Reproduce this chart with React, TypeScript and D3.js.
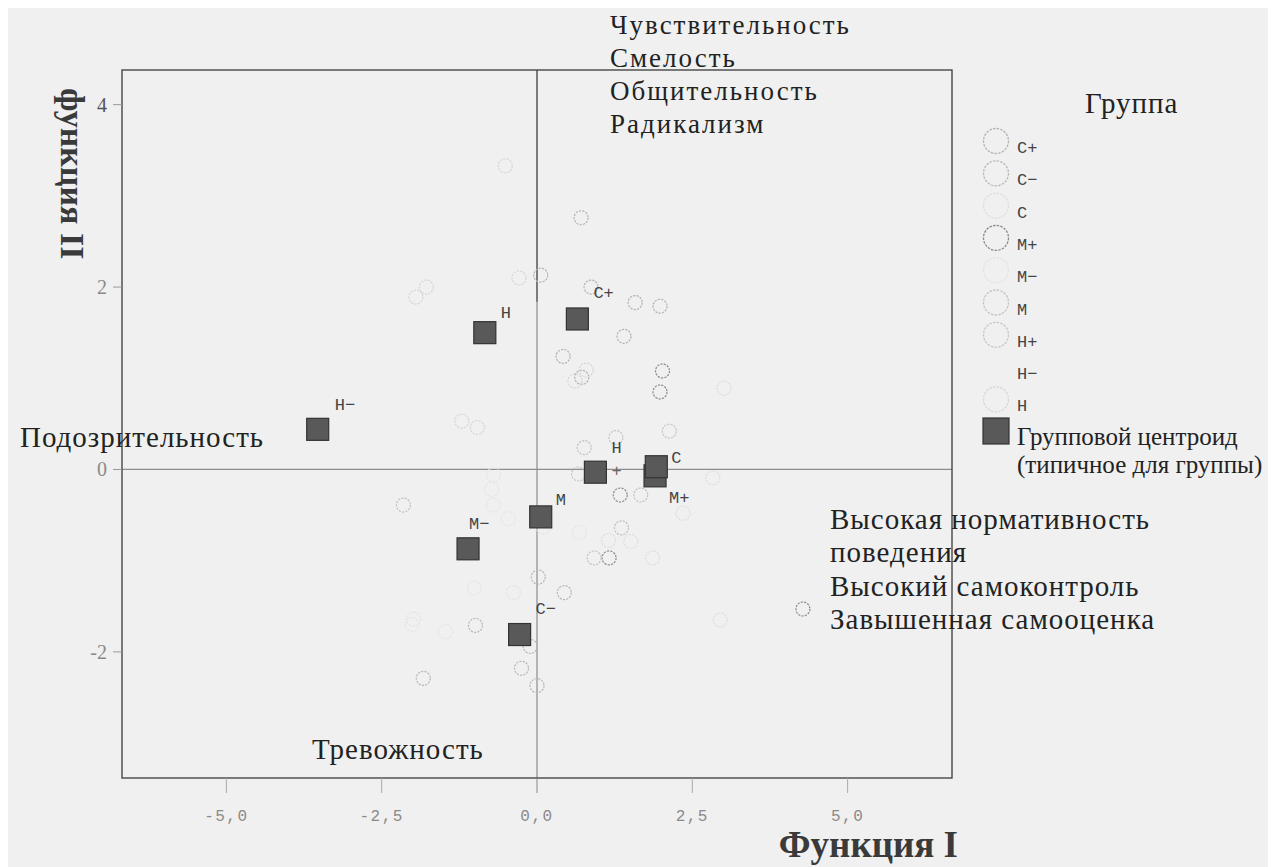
import React from "react";
import * as d3 from "d3";

// ---- data ----
const groups = ["C+", "C−", "C", "M+", "M−", "M", "H+", "H−", "H"];

const ptsCplus: [number, number][] = [
  [0.71, 2.76], [0.87, 2.0], [1.58, 1.83], [1.98, 1.79], [0.42, 1.24], [0.06, 2.13], [1.4, 1.46], [0.72, 1.01],
];
const ptsCminus: [number, number][] = [
  [0.0, -2.37], [-0.99, -1.71], [-0.11, -1.94], [-0.25, -2.18], [-1.83, -2.29], [0.02, -1.18], [0.44, -1.35],
];
const ptsC: [number, number][] = [
  [3.01, 0.89], [2.83, -0.09], [2.35, -0.48], [1.15, -0.78], [1.51, -0.79], [1.86, -0.97], [2.95, -1.65],
];
const ptsMplus: [number, number][] = [
  [2.02, 1.08], [1.98, 0.85], [1.34, -0.28], [1.16, -0.97], [4.28, -1.53],
];
const ptsMminus: [number, number][] = [
  [-0.7, -0.06], [-0.73, -0.22], [-0.7, -0.39], [-0.46, -0.54], [-1.01, -1.3], [-0.38, -1.35],
  [-1.99, -1.64], [-2.01, -1.7], [-1.47, -1.78], [0.1, -0.63], [0.68, -0.69],
];
const ptsM: [number, number][] = [
  [-2.15, -0.39], [0.92, -0.97], [1.36, -0.64], [0.76, 0.24], [1.67, -0.28],
];
const ptsHplus: [number, number][] = [
  [2.13, 0.42], [1.27, 0.35], [0.67, -0.05],
];
const ptsHminus: [number, number][] = [];
const ptsH: [number, number][] = [
  [-0.51, 3.33], [-0.29, 2.1], [-1.78, 2.0], [-1.95, 1.89], [-1.21, 0.53], [-0.96, 0.46], [0.79, 1.09], [0.61, 0.97],
];
const groupPoints = [ptsCplus, ptsCminus, ptsC, ptsMplus, ptsMminus, ptsM, ptsHplus, ptsHminus, ptsH];

// centroids (drawing order: M+ below C)
const centroidGroups = ["H−", "H", "C+", "H+", "M+", "C", "M", "M−", "C−"];
const centroidX = [-3.53, -0.84, 0.65, 0.94, 1.9, 1.92, 0.06, -1.11, -0.28];
const centroidY = [0.44, 1.5, 1.65, -0.03, -0.07, 0.03, -0.52, -0.87, -1.81];

const xTicks = [-5, -2.5, 0, 2.5, 5];
const yTicks = [-2, 0, 2, 4];

const topNotes = ["Чувствительность", "Смелость", "Общительность", "Радикализм"];
const rightNotes = ["Высокая нормативность", "поведения", "Высокий самоконтроль", "Завышенная самооценка"];
const leftNote = "Подозрительность";
const bottomNote = "Тревожность";

// ---- styles / layout ----
const groupStroke: Record<string, string> = {
  "C+": "#b2b2b2", "C−": "#b8b8b8", C: "#dedede", "M+": "#8a8a8a", "M−": "#e4e4e4",
  M: "#c2c2c2", "H+": "#c6c6c6", "H−": "#f0f0f0", H: "#d6d6d6",
};
// label offsets (px) relative to centroid centre: [dx, dy]
const labelOffsets: Record<string, [number, number]> = {
  "H−": [17, -19], H: [16, -15], "C+": [16, -21], "H+": [16, -19], C: [15, -4],
  "M+": [14, 27], M: [15, -12], "M−": [1, -20], "C−": [16, -21],
};

const BG = "#f0f0f0";
const SERIF = "'Liberation Serif', 'DejaVu Serif', serif";
const MONO = "'Liberation Mono', 'DejaVu Sans Mono', monospace";
const NOTE_SIZE = 29;
const NOTE_LS = 1;

export default function App() {
  const left = 122, right = 952, top = 70, bottom = 778;
  const x = d3.scaleLinear().domain([-6.68, 6.68]).range([left, right]);
  const y = d3.scaleLinear().domain([-3.383, 4.38]).range([bottom, top]);
  const fmtX = (v: number) => d3.format(".1f")(v).replace(".", ",").replace("−", "-");
  const sq = 22;

  return (
    <svg width={1268} height={859} style={{ display: "block" }}>
      <g transform="translate(-8,-8)">
        <rect x={8} y={8} width={1268} height={859} fill={BG} />

        {/* reference lines */}
        <line x1={left} x2={right} y1={y(0)} y2={y(0)} stroke="#8c8c8c" strokeWidth={1.2} />
        <line x1={x(0)} x2={x(0)} y1={top} y2={bottom} stroke="#8c8c8c" strokeWidth={1.2} />
        <line x1={x(0)} x2={x(0)} y1={top} y2={y(1.84)} stroke="#555" strokeWidth={1.2} />

        {/* frame */}
        <rect x={left} y={top} width={right - left} height={bottom - top} fill="none" stroke="#3a3a3a" strokeWidth={1.3} />

        {/* ticks */}
        {xTicks.map((t) => (
          <g key={"xt" + t}>
            <line x1={x(t)} x2={x(t)} y1={bottom} y2={bottom + 15} stroke={t === 0 ? "#888" : "#aaa"} />
            <text x={x(t)} y={bottom + 43} textAnchor="middle" fontFamily={MONO} fontSize={16} fill="#8a8a8a" letterSpacing={1.5}>
              {fmtX(t)}
            </text>
          </g>
        ))}
        {yTicks.map((t) => (
          <g key={"yt" + t}>
            <line x1={left - 9} x2={left} y1={y(t)} y2={y(t)} stroke="#999" />
            <text x={left - 15} y={y(t) + 7} textAnchor="end" fontFamily={SERIF} fontSize={20} fill={t === 4 ? "#555" : "#8a8a8a"}>
              {t < 0 ? "-" + Math.abs(t) : String(t)}
            </text>
          </g>
        ))}

        {/* axis titles */}
        <text x={958} y={857} textAnchor="end" fontFamily={SERIF} fontWeight="bold" fontSize={37} fill="#3a3a3a">
          Функция I
        </text>
        <text transform={`translate(61,${88}) rotate(90)`} fontFamily={SERIF} fontWeight="bold" fontSize={34} fill="#3a3a3a">
          функция II
        </text>

        {/* points */}
        {groupPoints.map((pts, gi) =>
          pts.map((p, i) => (
            <circle key={gi + "-" + i} cx={x(p[0])} cy={y(p[1])} r={7} fill="none"
              stroke={groupStroke[groups[gi]]} strokeWidth={1.2} strokeDasharray="2.2,1.2" />
          ))
        )}

        {/* centroids */}
        {centroidGroups.map((g, i) => (
          <rect key={"c" + g} x={x(centroidX[i]) - sq / 2} y={y(centroidY[i]) - sq / 2} width={sq} height={sq}
            fill="#595959" stroke="#333" strokeWidth={1.2} />
        ))}
        {centroidGroups.map((g, i) => {
          const [dx, dy] = labelOffsets[g];
          const cx = x(centroidX[i]) + dx, cy = y(centroidY[i]) + dy;
          if (g === "H+") {
            return (
              <g key={"l" + g}>
                <text x={cx} y={cy} fontFamily={MONO} fontSize={17} fill="#444">H</text>
                <text x={cx} y={cy + 23} fontFamily={MONO} fontSize={17} fill="#666">+</text>
              </g>
            );
          }
          return (
            <text key={"l" + g} x={cx} y={cy} fontFamily={MONO} fontSize={17} fill="#444">{g}</text>
          );
        })}

        {/* annotations */}
        {topNotes.map((t, i) => (
          <text key={t} x={610} y={34 + i * 33} fontFamily={SERIF} fontSize={27} letterSpacing={2} fill="#222">{t}</text>
        ))}
        {rightNotes.map((t, i) => (
          <text key={t} x={830} y={529 + i * 33.3} fontFamily={SERIF} fontSize={NOTE_SIZE} letterSpacing={NOTE_LS} fill="#222">{t}</text>
        ))}
        <text x={20} y={447} fontFamily={SERIF} fontSize={NOTE_SIZE} letterSpacing={NOTE_LS} fill="#222">{leftNote}</text>
        <text x={312} y={759} fontFamily={SERIF} fontSize={NOTE_SIZE} letterSpacing={NOTE_LS} fill="#222">{bottomNote}</text>

        {/* legend */}
        <text x={1085} y={113} fontFamily={SERIF} fontSize={NOTE_SIZE} letterSpacing={NOTE_LS} fill="#222">Группа</text>
        {groups.map((g, i) => (
          <g key={"lg" + g}>
            <circle cx={996} cy={141 + i * 32.3} r={12.5} fill="none" stroke={groupStroke[g]} strokeWidth={1.3} strokeDasharray="2.5,1.2" />
            <text x={1017} y={153 + i * 32.3} fontFamily={MONO} fontSize={17} fill="#444">{g}</text>
          </g>
        ))}
        <rect x={983} y={418} width={26} height={26} fill="#595959" stroke="#333" strokeWidth={1.2} />
        <text x={1017} y={445} fontFamily={SERIF} fontSize={25} fill="#222">Групповой центроид</text>
        <text x={1017} y={473} fontFamily={SERIF} fontSize={25} fill="#222">(типичное для группы)</text>
      </g>
    </svg>
  );
}
